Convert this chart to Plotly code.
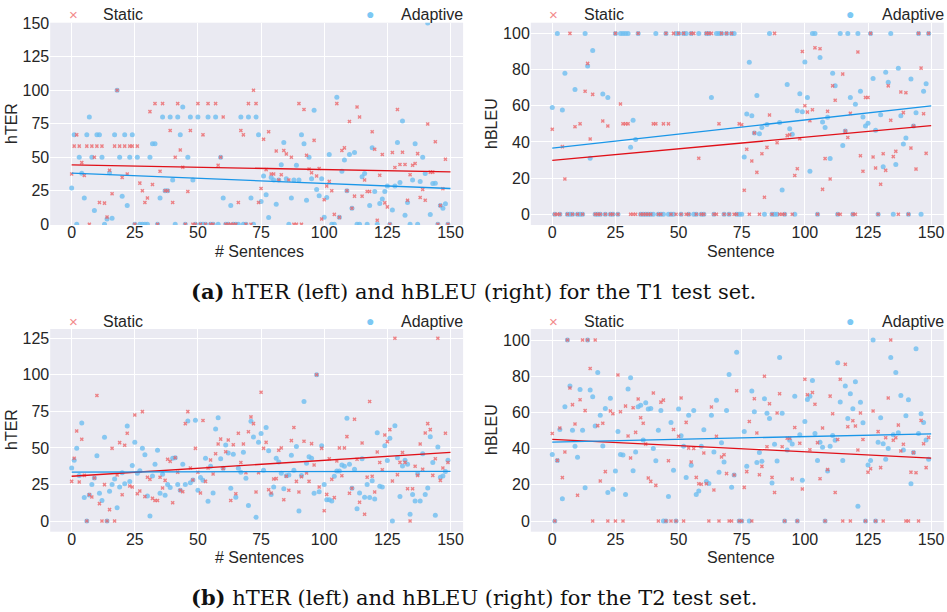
import plotly.graph_objects as go

idx = list(range(150))

# ---- T1 hTER ----
t1_hter_static = [
 37.5,58.3,66.7,58.3,46,36.4,58.3,0,58.3,50,
 58.3,16.3,58.3,15.8,5.4,40.3,22.8,58.3,100,58.3,
 35,58.3,37.5,58.3,58.3,0,58.3,30.7,25,16.3,
 19.6,84,29.7,90,0,39.6,90,25,25,70,
 16.3,50,90,55.4,42.6,0,24.5,70,0,0,
 90,0,66.7,0,90,0,0,90,44,50,
 80,0,0,0,0,0,16.3,70,66.7,0,
 90,0,100,90,16.3,26.7,63.4,40.8,69,37.5,
 37.5,54.7,33,37,55,52.5,33,50,0,0,
 90,0,85.6,51.5,41.3,38.4,62.6,36,41.6,4,
 18.3,28.5,32,25,7.4,90,5.2,55,57,25,
 76.7,12,21,87.4,80,21,33,24.5,24.5,69,
 56,3,36.6,52,16,13,0,53.5,42.3,85.6,
 44.6,53.7,44.6,18,37,44,45.3,52.7,20,26,
 18,74.8,38.9,38.9,61.6,0,14,26.5,48.5,0]
t1_hter_adaptive = [
 27,66.7,0,50,38,19.6,66.7,80,50,10.4,
 66.7,66.7,50,0,4,38.4,4.5,66.7,100,50,
 21,66.7,14,50,66.7,0,50,0,0,0,
 0,50,60,60,0,19.6,80,25,25,80,
 33,0,80,66.7,87.5,0,50,80,33,0,
 80,0,0,0,80,0,0,80,0,50,
 19.6,0,0,14,0,0,0,80,0,0,
 80,19.6,0,80,66.7,17,36,22,5,35,
 33,15,33,44.5,61,34,0,19.6,33,44,
 33,66.7,60,18,50,34,85,26,21.3,34,
 5.2,20,52,0,0,94.8,5.2,39.6,48,25,
 52,12,53.5,0,0,35.4,37.9,0,14,57,
 24.5,0,15.6,18.8,24.5,28.5,0,10.6,28.5,61,
 31.2,77,6.7,16.3,0,33,60,0,32,50,
 37.9,150,7.4,30.4,30.7,0,14,12,15.3,0]
t1_hter_fit = {"Static": [44.3, 39.1], "Adaptive": [38.1, 26.7]}

# ---- T1 hBLEU ----
t1_hbleu_static = [
 47,0,0,0,37.4,19.5,0,100,0,48.4,
 0,50,0,68,83.4,41.6,66.3,0,0,0,
 51.6,0,48.8,0,0,100,0,61,50,50,
 50,0,0,0,100,0,0,0,0,0,
 50,50,0,0,50,100,50,0,100,0,
 100,0,100,0,0,100,100,0,31,0,
 0,100,100,100,0,0,50,100,0,100,
 0,100,0,0,50,49.5,13.3,36,0,29.5,
 45,23.2,0,33.5,9.4,37,54.9,0,100,39.6,
 0,0,0,43.5,44,0,21.5,25.2,41.8,90,
 60,56.5,51.7,57.8,92,0,91.5,13.8,30.8,57,
 19.5,71,63,0,0,77.5,46,42.5,55.8,0,
 0,89.7,32.4,23.8,64.6,64.6,100,31.7,25.6,0,
 16.6,33.5,24.3,71,52,31.9,34.8,0,67.6,56.2,
 67.2,0,36.6,48.8,25,100,80.8,55.6,33.7,100]
t1_hbleu_adaptive = [
 59,0,100,0,57.6,78,0,0,0,69,
 0,0,0,100,82,31,90.6,0,0,0,
 66.5,0,64.5,0,0,100,0,100,100,100,
 100,37,52,41.3,100,0,0,0,0,0,
 0,100,0,0,0,100,0,0,0,100,
 100,0,100,100,0,100,0,0,100,0,
 0,100,100,64.5,0,100,100,100,0,100,
 0,100,100,0,0,0,31.7,55.4,84,54.5,
 45,65.7,44.5,48,0,49.7,100,0,0,0,
 50.8,13.4,0,71.8,47.3,44.2,0,57.3,66.7,56.7,
 84.2,64.6,23.8,100,100,0,86.7,51,48,53.6,
 30.8,78,71,0,100,38,46,100,64.5,0,
 60.8,100,68,53.8,48.8,50.3,100,75,46.4,0,
 55,26.3,78.5,73,100,0,27.6,80.7,54.5,38.9,
 42.2,0,74.8,48.8,56.2,100,0,68,72.2,100]
t1_hbleu_fit = {"Static": [29.8, 49.0], "Adaptive": [36.6, 59.9]}

# ---- T2 hTER ----
t2_hter_static = [
 27.1,42.9,61.6,26.7,55.9,31.2,0,18,16.4,29.4,
 85.8,11.9,0,24.9,0,7.8,49.7,0,31.5,53.6,
 18,51.8,60,24,23.3,72.5,18.7,20.5,74.8,16.7,
 29.9,28.5,15.5,14,14,29.9,22.6,27.8,42.2,40.8,
 12.5,43.3,33.3,21,20,66.6,74.8,36.3,28,49.7,
 33.3,19.2,68.7,27.1,36.3,41.7,32.2,46,52.7,56,
 36,47.4,55.4,14,52.2,18.7,60,40,52.7,33,
 61,71.2,66.6,19.8,33,88,49.7,53.8,21.4,19.2,
 28.7,29,48.4,50,14.6,30.6,21,55,64,27.1,
 19.8,30.3,54.5,32.8,27.1,52.9,38.3,100,23.3,49.7,
 7,18.2,42.6,28.5,16,41,50,31,50,57.7,
 19,22.4,69.6,42.2,12.8,53.4,4.6,30,81.7,30.6,
 19.8,47.2,40,35,58.8,54.3,62.5,27.4,125,31.7,
 40.1,46.8,40.1,22.1,0,22.1,37.4,31.2,52.7,35.4,
 60.2,66.6,62.5,31.2,42.6,125,27.8,36.3,60,40]
t2_hter_adaptive = [
 36.3,41.5,49.7,31.2,67,16,0,17.8,25,29.4,
 44.7,19,14,57.2,0,20.3,25,28.7,9,23.3,
 33,25.5,65,27,37.9,53.8,32.6,34.4,49.7,45.4,
 17.1,3.4,30.8,38.8,48.4,19,32,17.6,25,23,
 42.9,43.3,25,21,38.8,25,68.4,26.2,28,68.9,
 21,29.7,27.8,43,13.5,37.4,19.2,63,70.7,42.6,
 36,52,46.5,22.4,45.6,16.2,36,33.3,47,29.2,
 10.7,68.2,57.5,2.5,53.8,59.8,34.7,63.9,48.1,18.2,
 23.3,42.9,40.4,32.6,22.1,31,31.5,44.9,34.7,51,
 6.8,31.2,81.7,39.5,44,42.9,19,100,20,51.5,
 24.9,14.6,14.6,13.7,30.6,34.2,34.2,38.3,37.4,70.3,
 38.8,22.4,35.4,8.4,19.2,42.6,16.2,24.9,16,27.6,
 15,60.4,23.7,23.3,51.5,41.3,56.6,0,65.2,43.3,
 16.7,37.6,41.5,38.8,4.6,18.2,13.7,32.4,13.7,46,
 18.2,22.6,57.7,40.1,3.9,50.6,29.9,30.8,33.8,41.5]
t2_hter_fit = {"Static": [30.6, 47.0], "Adaptive": [33.5, 34.0]}

# ---- T2 hBLEU ----
t2_hbleu_static = [
 48.4,0,33.5,51.4,24,38.1,100,73.5,64.3,53.6,
 14.2,67,100,61,100,84.3,0,100,52.7,22.1,
 54,27.3,0,60.8,59.3,0,80.7,60.4,0,63.5,
 47,34.8,62.6,49,67.4,57.1,54,42.5,23.8,21.9,
 70.7,19.7,0,65.7,66.8,0,33.3,0,50.6,0,
 46.8,68,0,54.5,40.3,32.6,40.1,24.1,20.6,20.3,
 37.6,20.6,0,63,17.1,46.8,0,35.4,36.6,26.2,
 0,0,25.4,72,0,0,18.6,27.3,55,0,
 67.6,48.6,25.6,30.2,80,41,64.8,24.1,15.8,59.7,
 70.3,41,0,45.7,45.7,23.2,51.7,0,43,17.7,
 78.3,69.8,39.4,71,64.5,43.3,23.4,51.4,0,28.5,
 69,59.3,15.8,45,78.3,0,86.6,52.1,0,55.4,
 52.5,39.2,59.7,45,0,27,28.9,60.8,0,49.4,
 29.5,0,46,68,100,44.6,46,53,38.7,42.4,
 0,0,27,37.8,26.7,0,55.6,42.7,29.5,46.2]
t2_hbleu_adaptive = [
 36.8,0,33.5,50.6,12.3,63.2,100,74.6,50.1,41.3,
 35.2,72.7,50.1,18.4,100,72.4,68.7,52.5,82.1,58.4,
 41.4,62.2,15.8,67.8,17.5,27.6,49.5,36.8,36.5,14.7,
 72.9,79.2,27.8,38.1,63.2,64,44.8,65.4,61.9,62.2,
 40.1,33.3,50.1,61.1,0,0,13.6,54.5,28,0,
 61.9,47.1,41.3,24.1,58.4,30.8,61,14.7,16.6,41.3,
 50.5,21.9,20.8,58.4,38.1,66.7,26.9,43.3,32.6,61.1,
 81,18.6,25.4,93.2,0,0,49.5,30.2,0,71.8,
 60.4,32.4,37.8,33,67.6,59.5,56.7,21,42.4,33.1,
 90.4,59.5,0,39.2,44.6,42.5,69,0,47.7,22.5,
 55,67.2,69,77.7,48.4,33.5,43.5,40.7,0,27.6,
 41.3,47.3,44.6,87.5,65.7,33.5,74.6,56.7,70.3,62.1,
 77,8.1,65.6,54.3,0,31,33.5,100,0,43.5,
 57.1,42.7,34.1,40.1,90.4,47.7,82.1,48.8,69.4,39.2,
 58.2,67,20.6,37.8,95.2,48.3,59.3,54.5,44.8,34.1]
t2_hbleu_fit = {"Static": [45.1, 34.8], "Adaptive": [43.6, 48.2]}

fit_x = [0, 150]
x_ticks = [0, 25, 50, 75, 100, 125, 150]

W, H = 947, 612
def dx(a, b):
    return [a / W, b / W]
def dy(top, bottom):
    return [1 - bottom / H, 1 - top / H]
def px(x):
    return x / W
def py(y):
    return 1 - y / H

panels = [
    dict(static=t1_hter_static, adaptive=t1_hter_adaptive, fit=t1_hter_fit,
         xd=(50.2, 463.1), yd=(22.7, 225.0), yr=[-0.5, 150.3],
         yt=[0, 25, 50, 75, 100, 125, 150], yl="hTER", xl="# Sentences",
         leg_y=14, xl_pos=(259, 251), yl_pos=(12, 124)),
    dict(static=t1_hbleu_static, adaptive=t1_hbleu_adaptive, fit=t1_hbleu_fit,
         xd=(530.8, 943.8), yd=(22.7, 225.0), yr=[-5.9, 105.9],
         yt=[0, 20, 40, 60, 80, 100], yl="hBLEU", xl="Sentence",
         leg_y=14, xl_pos=(741, 251), yl_pos=(492, 124)),
    dict(static=t2_hter_static, adaptive=t2_hter_adaptive, fit=t2_hter_fit,
         xd=(50.2, 463.1), yd=(329.0, 531.7), yr=[-7.3, 131.3],
         yt=[0, 25, 50, 75, 100, 125], yl="hTER", xl="# Sentences",
         leg_y=321, xl_pos=(259, 557), yl_pos=(12, 430)),
    dict(static=t2_hbleu_static, adaptive=t2_hbleu_adaptive, fit=t2_hbleu_fit,
         xd=(530.8, 943.8), yd=(329.0, 531.7), yr=[-5.9, 106.1],
         yt=[0, 20, 40, 60, 80, 100], yl="hBLEU", xl="Sentence",
         leg_y=321, xl_pos=(741, 557), yl_pos=(492, 430)),
]

STATIC_C = "rgba(236,100,104,0.78)"
ADAPT_C = "rgba(110,190,240,0.8)"
STATIC_LINE = "#e01018"
ADAPT_LINE = "#1a96e8"
FONT = "Liberation Sans, Arial, sans-serif"
TXT = "#262626"

fig = go.Figure()
layout = dict(template="none", width=W, height=H, margin=dict(l=0, r=0, t=0, b=0, pad=0),
              paper_bgcolor="white", plot_bgcolor="#EAEAF2",
              showlegend=False, font=dict(family=FONT, size=16, color=TXT))
annotations = []

for i, p in enumerate(panels):
    n = "" if i == 0 else str(i + 1)
    xa, ya = "x" + n, "y" + n
    fig.add_trace(go.Scatter(x=idx, y=p["adaptive"], mode="markers", xaxis=xa, yaxis=ya,
                             marker=dict(symbol="circle", size=5, color=ADAPT_C, line=dict(width=0)),
                             name="Adaptive"))
    fig.add_trace(go.Scatter(x=idx, y=p["static"], mode="markers", xaxis=xa, yaxis=ya,
                             marker=dict(symbol="x", size=3.6, color=STATIC_C, line=dict(width=0)),
                             name="Static"))
    fig.add_trace(go.Scatter(x=fit_x, y=p["fit"]["Static"], mode="lines", xaxis=xa, yaxis=ya,
                             line=dict(color=STATIC_LINE, width=1.3), hoverinfo="skip"))
    fig.add_trace(go.Scatter(x=fit_x, y=p["fit"]["Adaptive"], mode="lines", xaxis=xa, yaxis=ya,
                             line=dict(color=ADAPT_LINE, width=1.3), hoverinfo="skip"))
    layout["xaxis" + n] = dict(domain=dx(*p["xd"]), range=[-8.5, 155], anchor=ya,
                               automargin=False, ticklabelstandoff=-4,
                               tickvals=x_ticks, showgrid=True, gridcolor="white", gridwidth=1.4,
                               zeroline=False, showline=False, ticks="",
                               tickfont=dict(size=16, family=FONT, color=TXT))
    layout["yaxis" + n] = dict(domain=dy(*p["yd"]), range=p["yr"], anchor=xa,
                               automargin=False,
                               tickvals=p["yt"], showgrid=True, gridcolor="white", gridwidth=1.4,
                               zeroline=False, showline=False, ticks="",
                               tickfont=dict(size=16, family=FONT, color=TXT))
    # axis titles
    annotations += [
        dict(x=px(p["xl_pos"][0]), y=py(p["xl_pos"][1]), xref="paper", yref="paper",
             text=p["xl"], showarrow=False, xanchor="center", yanchor="middle", borderpad=0,
             font=dict(size=16, color=TXT, family=FONT)),
        dict(x=px(p["yl_pos"][0]), y=py(p["yl_pos"][1]), xref="paper", yref="paper",
             text=p["yl"], showarrow=False, xanchor="center", yanchor="middle", textangle=-90,
             font=dict(size=16, color=TXT, family=FONT)),
    ]
    # legend (two entries, spread across the top of the panel)
    left = p["xd"][0]
    ly = py(p["leg_y"])
    annotations += [
        dict(x=px(left + 23), y=ly, xref="paper", yref="paper", text="×", showarrow=False,
             font=dict(size=15, color="#f28b8b", family=FONT), xanchor="center", yanchor="middle"),
        dict(x=px(left + 51), y=ly, xref="paper", yref="paper", text="Static", showarrow=False,
             font=dict(size=16, color=TXT, family=FONT), xanchor="left", yanchor="middle"),
        dict(x=px(left + 319.5), y=ly, xref="paper", yref="paper", text="●", showarrow=False,
             font=dict(size=14, color="#7cc8f4", family=FONT), xanchor="center", yanchor="middle"),
        dict(x=px(left + 349), y=ly, xref="paper", yref="paper", text="Adaptive", showarrow=False,
             font=dict(size=16, color=TXT, family=FONT), xanchor="left", yanchor="middle"),
    ]

captions = [
    ("<b>(a)</b> hTER (left) and hBLEU (right) for the T1 test set.", 291),
    ("<b>(b)</b> hTER (left) and hBLEU (right) for the T2 test set.", 597),
]
for text, y in captions:
    annotations.append(dict(x=px(473.5), y=py(y), xref="paper", yref="paper", text=text,
                            showarrow=False, xanchor="center", yanchor="middle",
                            font=dict(size=21, family="DejaVu Serif, serif", color="#111")))

layout["annotations"] = annotations
fig.update_layout(**layout)
fig.write_html("out.html")
